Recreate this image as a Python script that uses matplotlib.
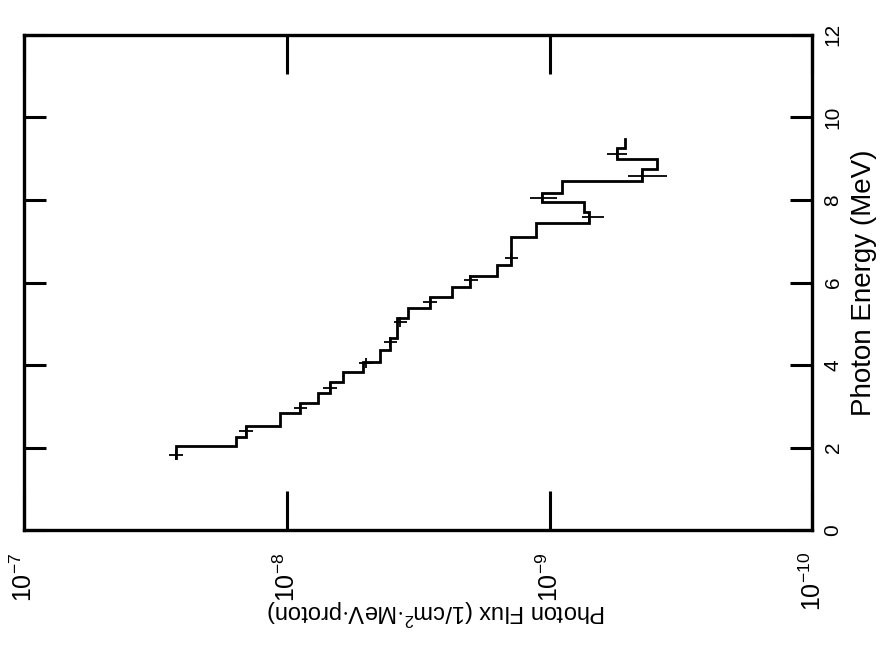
import numpy as np
import matplotlib
matplotlib.use("Agg")
import matplotlib.pyplot as plt

plt.rcParams['font.family'] = ['Liberation Sans', 'DejaVu Sans']
plt.rcParams['mathtext.fontset'] = 'custom'
plt.rcParams['mathtext.rm'] = 'Liberation Sans'
plt.rcParams['mathtext.it'] = 'Liberation Sans'

# histogram bin edges (MeV) and flux per bin (1/cm^2 MeV proton)
energy_edges = [1.75, 2.04, 2.26, 2.52, 2.84, 3.08, 3.33, 3.59, 3.83, 4.08,
                4.37, 4.66, 5.14, 5.38, 5.65, 5.90, 6.16, 6.43, 7.10, 7.45,
                7.72, 7.94, 8.18, 8.45, 8.74, 8.98, 9.27, 9.47]
flux = [2.64e-8, 1.56e-8, 1.43e-8, 1.06e-8, 8.9e-9, 7.6e-9, 6.84e-9, 6.1e-9,
        5.12e-9, 4.41e-9, 4.04e-9, 3.80e-9, 3.45e-9, 2.85e-9, 2.35e-9,
        2.00e-9, 1.58e-9, 1.40e-9, 1.13e-9, 7.06e-10, 7.38e-10, 1.07e-9,
        8.95e-10, 4.44e-10, 3.89e-10, 5.52e-10, 5.15e-10]

# error bar crosses
err_energy = [1.82, 2.40, 2.96, 3.44, 4.05, 4.56, 5.04, 5.53, 6.06, 6.60,
              7.59, 8.05, 8.58, 9.12]
err_flux = [2.64e-8, 1.43e-8, 8.9e-9, 6.84e-9, 5.0e-9, 4.04e-9, 3.7e-9,
            2.85e-9, 2.0e-9, 1.40e-9, 7.06e-10, 1.07e-9, 4.44e-10, 5.52e-10]
err_low = [2.48e-8, 1.34e-8, 8.4e-9, 6.45e-9, 4.7e-9, 3.8e-9, 3.5e-9,
           2.68e-9, 1.88e-9, 1.32e-9, 6.19e-10, 9.35e-10, 3.56e-10, 5.06e-10]
err_high = [2.80e-8, 1.52e-8, 9.4e-9, 7.25e-9, 5.3e-9, 4.28e-9, 3.9e-9,
            3.02e-9, 2.12e-9, 1.48e-9, 7.5e-10, 1.19e-9, 5.02e-10, 6.03e-10]

flux_ticks = [1e-7, 1e-8, 1e-9, 1e-10]
flux_labels = [r'$10^{-7}$', r'$10^{-8}$', r'$10^{-9}$', r'$10^{-10}$']
energy_ticks = [0, 2, 4, 6, 8, 10, 12]

fig = plt.figure(figsize=(8.85, 6.45), dpi=100)
ax = fig.add_axes([0.027, 0.178, 0.891, 0.768])

# build the step outline: each bin is a vertical run in energy at constant flux
xs, ys = [], []
for i, f in enumerate(flux):
    xs += [f, f]
    ys += [energy_edges[i], energy_edges[i + 1]]
ax.plot(xs, ys, color='black', lw=2.0, solid_joinstyle='miter')

ef = np.array(err_flux)
ax.errorbar(err_flux, err_energy,
            xerr=[ef - np.array(err_low), np.array(err_high) - ef],
            yerr=0.12, fmt='none', ecolor='black', elinewidth=1.3)

ax.set_xscale('log')
ax.set_xlim(1e-7, 1e-10)
ax.set_ylim(0, 12)
ax.xaxis.set_minor_locator(matplotlib.ticker.NullLocator())
ax.set_xticks(flux_ticks)
ax.set_xticklabels(flux_labels, rotation=90)
ax.set_yticks(energy_ticks)
ax.set_yticklabels([str(t) for t in energy_ticks], rotation=90, va='center')

ax.tick_params(axis='x', direction='in', top=True, bottom=True,
               length=28, width=2.2, labelsize=18, pad=16)
ax.tick_params(axis='y', direction='in', left=True, right=True,
               labelleft=False, labelright=True,
               length=16, width=2.2, labelsize=15, pad=8)

for s in ax.spines.values():
    s.set_linewidth(2.4)

ax.yaxis.set_label_position('right')
ax.set_ylabel('Photon Energy (MeV)', rotation=90, fontsize=20, labelpad=6)
ax.set_xlabel('Photon Flux (1/cm$^2$$\\cdot$MeV$\\cdot$proton)',
              rotation=180, fontsize=17, va='center')
ax.xaxis.set_label_coords(0.523, -0.165)

fig.savefig('out.png', dpi=100)
